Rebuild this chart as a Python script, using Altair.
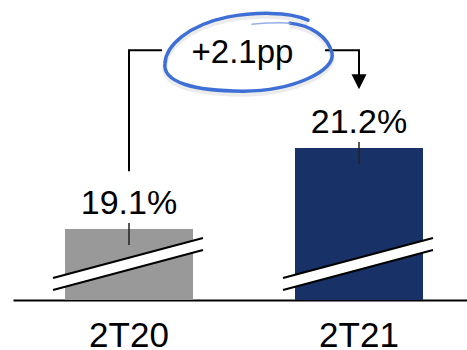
import altair as alt
import pandas as pd

# ---- data ----
periods = ["2T20", "2T21"]
values = [19.1, 21.2]
bar_colors = ["#999999", "#183268"]

# ---- layout constants (axis break: truncated y scale) ----
Y_MIN = 17.26
Y_MAX = 25.04
BRACKET = 23.74
FONT = "Liberation Sans"

df = pd.DataFrame({"period": periods, "value": values, "color": bar_colors})
df["label"] = df["value"].map(lambda v: f"{v:.1f}%")
df["ymin"] = Y_MIN
delta = values[1] - values[0]
ann_from = pd.DataFrame({"period": [periods[0]], "ylev": [BRACKET],
                         "label": [f"+{delta:.1f}pp"]})
ann_to = pd.DataFrame({"period": [periods[1]], "ylev": [BRACKET]})

xs = alt.Scale(domain=periods, paddingInner=0.4435, paddingOuter=0.2087, align=0.5417)
ys = alt.Scale(domain=[Y_MIN, Y_MAX], nice=False, zero=False)

X = alt.X("period:N", scale=xs, title=None)
Y = alt.Y("value:Q", scale=ys, axis=None)
YMIN = alt.Y("ymin:Q", scale=ys, axis=None)
YB = alt.Y("ylev:Q", scale=ys, axis=None)

base = alt.Chart(df)

bars = base.mark_bar().encode(
    x=X, y=Y, y2=alt.Y2("ymin:Q"),
    color=alt.Color("color:N", scale=None))

SLASH_FILL = "M-76,14L74,-26L74,-14L-76,26Z"
SLASH_LINES = "M-76,14L74,-26M-76,26L74,-14"
slash_fill = base.mark_point(shape=SLASH_FILL, size=4, filled=True, fill="white",
                             strokeWidth=0, opacity=1, yOffset=-36).encode(x=X, y=YMIN)
slash_lines = base.mark_point(shape=SLASH_LINES, size=4, filled=False, stroke="black",
                              strokeWidth=2, opacity=1, yOffset=-36).encode(x=X, y=YMIN)

ticks = base.mark_rule(color="#222222", strokeWidth=1.5, yOffset=-6, y2Offset=16).encode(
    x=X, y=Y, y2=alt.Y2("value:Q"))

labels = base.mark_text(dy=-15, baseline="alphabetic", fontSize=34, font=FONT,
                        color="black").encode(x=X, y=Y, text="label:N")

fbase = alt.Chart(ann_from)
tbase = alt.Chart(ann_to)

left_bracket = fbase.mark_point(shape="M0,121L0,0L33,0", size=4, filled=False,
                                stroke="black", strokeWidth=2, opacity=1,
                                strokeJoin="miter").encode(x=X, y=YB)
right_bracket = tbase.mark_point(shape="M-34,0L0,0L0,26", size=4, filled=False,
                                 stroke="black", strokeWidth=2, opacity=1,
                                 strokeJoin="miter").encode(x=X, y=YB)
arrow = tbase.mark_point(shape="M-7.5,24L7.5,24L0,39Z", size=4, filled=True,
                         fill="black", strokeWidth=0, opacity=1).encode(x=X, y=YB)

delta_text = fbase.mark_text(dx=113.5, dy=13, baseline="alphabetic", fontSize=33,
                             font=FONT, color="black").encode(x=X, y=YB, text="label:N")

ELLIPSE = ("M46,-27C66,-25 84,-14 88,3C92,20 50,41 -1,41"
           "C-50,41 -82,32 -79,13C-78,-5 -55,-25 -17,-33C10,-38 45,-39 64,-30")
FAINT = "M8,-26C20,-27 35,-28 46,-27"
shadow = fbase.mark_point(shape=ELLIPSE, size=4, filled=False, stroke="#000000",
                          strokeWidth=5, opacity=0.07, xOffset=115, yOffset=3).encode(x=X, y=YB)
ellipse = fbase.mark_point(shape=ELLIPSE, size=4, filled=False, stroke="#3d6fd6",
                           strokeWidth=3.5, opacity=1, strokeCap="round",
                           xOffset=115).encode(x=X, y=YB)
faint = fbase.mark_point(shape=FAINT, size=4, filled=False, stroke="#8aa8e6",
                         strokeWidth=1.5, opacity=0.9, strokeCap="round",
                         xOffset=115).encode(x=X, y=YB)

chart = alt.layer(
    bars, slash_fill, slash_lines, ticks, labels,
    left_bracket, right_bracket, arrow, delta_text, shadow, ellipse, faint
).properties(
    width=454, height=300,
    autosize=alt.AutoSizeParams(type="none"),
    padding={"left": 13, "top": 0, "right": 0, "bottom": 50},
    background="white",
).configure_view(stroke=None).configure_axisX(
    labelFont=FONT, labelFontSize=35, labelColor="black", labelAngle=0,
    ticks=False, tickSize=0, labelPadding=18,
    domainColor="black", domainWidth=2, grid=False,
)

chart.save("out.html", embed_options={"renderer": "svg", "actions": False})
